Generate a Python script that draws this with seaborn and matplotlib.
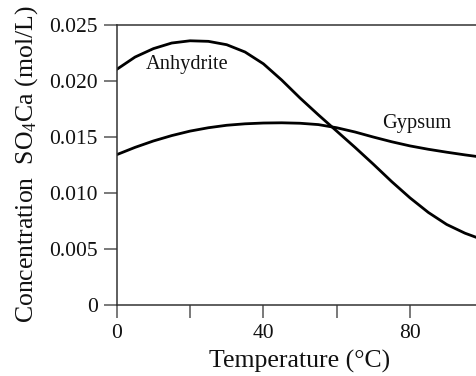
import matplotlib
matplotlib.use("Agg")
import matplotlib.pyplot as plt
import seaborn as sns
import pandas as pd

temperature = [0, 5, 10, 15, 20, 25, 30, 35, 40, 45, 50, 55, 60, 65, 70, 75, 80, 85, 90, 95, 100]
anhydrite = [0.02100, 0.02210, 0.02285, 0.02335, 0.02355, 0.02350, 0.02320, 0.02255, 0.02150, 0.02005,
             0.01845, 0.01695, 0.01550, 0.01405, 0.01255, 0.01100, 0.00955, 0.00825, 0.00718, 0.00640, 0.00580]
gypsum = [0.01340, 0.01405, 0.01462, 0.01510, 0.01550, 0.01580, 0.01602, 0.01615, 0.01622, 0.01624,
          0.01620, 0.01608, 0.01580, 0.01542, 0.01497, 0.01455, 0.01418, 0.01388, 0.01362, 0.01338, 0.01316]
x_ticks = [0, 20, 40, 60, 80, 100]
x_tick_labels = ["0", "", "40", "", "80", ""]
y_ticks = [0, 0.005, 0.010, 0.015, 0.020, 0.025]
y_tick_labels = ["0", "0.005", "0.010", "0.015", "0.020", "0.025"]

sns.set_theme(style="ticks")
plt.rcParams['font.family'] = ['Liberation Serif', 'DejaVu Serif']
plt.rcParams['mathtext.fontset'] = 'custom'
plt.rcParams['mathtext.rm'] = 'Liberation Serif'
plt.rcParams['mathtext.it'] = 'Liberation Serif:italic'

df = pd.DataFrame({"T": temperature, "Anhydrite": anhydrite, "Gypsum": gypsum})

fig = plt.figure(figsize=(4.76, 3.76), dpi=100)
ax = fig.add_axes([0.2452, 0.1888, 0.7702, 0.746])

sns.lineplot(data=df, x="T", y="Anhydrite", ax=ax, color="black", linewidth=2.0)
sns.lineplot(data=df, x="T", y="Gypsum", ax=ax, color="black", linewidth=2.0)

ax.set_xlim(0, 100)
ax.set_ylim(0, 0.025)
ax.set_xticks(x_ticks)
ax.set_xticklabels(x_tick_labels)
ax.set_yticks(y_ticks)
ax.set_yticklabels(y_tick_labels)

for s in ["left", "bottom", "top"]:
    ax.spines[s].set_visible(True)
    ax.spines[s].set_color("#333333")
    ax.spines[s].set_linewidth(1.1)
ax.spines["right"].set_visible(False)

ax.tick_params(axis="both", direction="out", length=9.5, width=1.1, color="#555555",
               labelsize=15.5, labelcolor="#111111")
ax.tick_params(axis="x", pad=4)
ax.tick_params(axis="y", pad=4)

ax.set_xlabel("Temperature (°C)", fontsize=18.5, color="#111111", labelpad=5)
ax.set_ylabel("Concentration  SO$_4$Ca (mol/L)", fontsize=18.5, color="#111111", labelpad=7)

ax.text(19.3, 0.02105, "Anhydrite", fontsize=14.7, ha="center", va="baseline", color="#111111")
ax.text(81.9, 0.01578, "Gypsum", fontsize=14.7, ha="center", va="baseline", color="#111111")

fig.savefig("out.png", dpi=100)
